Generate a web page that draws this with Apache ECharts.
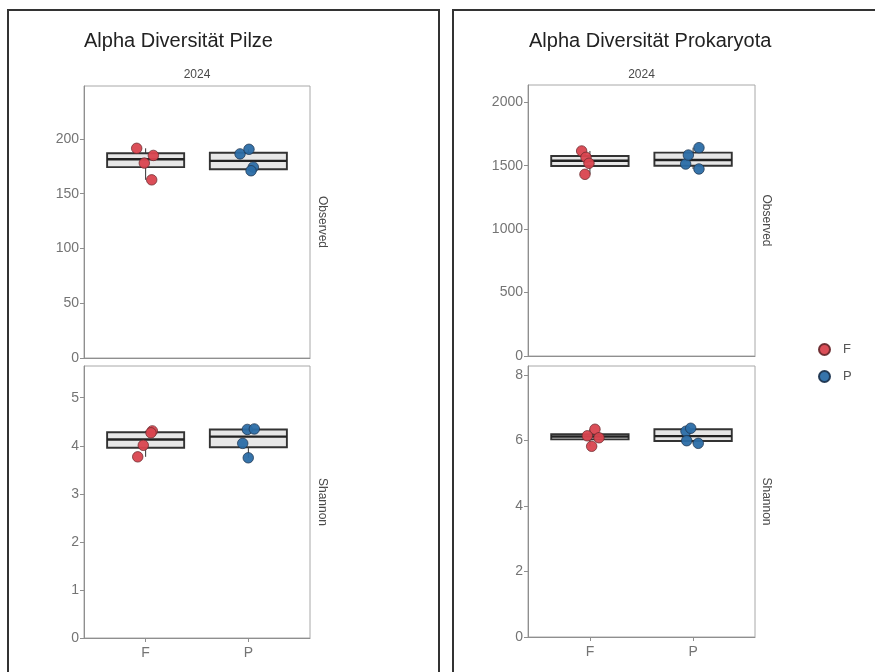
<!DOCTYPE html>
<html>
<head>
<meta charset="utf-8">
<script src="https://cdn.jsdelivr.net/npm/echarts@6/dist/echarts.min.js"></script>
<style>html,body{margin:0;padding:0;background:#fff}#c{width:875px;height:672px}</style>
</head>
<body>
<div id="c"></div>
<script>
// ---------- data ----------
const categories = ['F', 'P'];
const titles = ['Alpha Diversität Pilze', 'Alpha Diversität Prokaryota'];
const stripLabel = '2024';
const facetLabels = ['Observed', 'Shannon'];

// Pilze - Observed
const pilzeObsF = [191.5, 185, 178, 162.7];
const pilzeObsFx = [0.913, 1.075, 0.987, 1.059];
const pilzeObsP = [186.4, 190.6, 174.3, 171];
const pilzeObsPx = [1.919, 2.006, 2.048, 2.026];
const pilzeObsBoxF = [162.7, 174.3, 181.5, 187, 191.5];
const pilzeObsBoxP = [171, 172.4, 180, 187.5, 190.6];
// Pilze - Shannon
const pilzeShaF = [4.31, 4.27, 4.01, 3.77];
const pilzeShaFx = [1.065, 1.052, 0.977, 0.923];
const pilzeShaP = [4.34, 4.35, 4.05, 3.75];
const pilzeShaPx = [1.990, 2.058, 1.945, 1.999];
const pilzeShaBoxF = [3.77, 3.96, 4.13, 4.28, 4.31];
const pilzeShaBoxP = [3.75, 3.97, 4.19, 4.34, 4.35];
// Prokaryota - Observed
const prokObsF = [1616, 1566, 1519, 1432];
const prokObsFx = [0.920, 0.962, 0.991, 0.952];
const prokObsP = [1513, 1584, 1642, 1474];
const prokObsPx = [1.928, 1.954, 2.057, 2.057];
const prokObsBoxF = [1432, 1497, 1539, 1576, 1616];
const prokObsBoxP = [1474, 1500, 1545, 1603, 1642];
// Prokaryota - Shannon
const prokShaF = [6.34, 6.14, 6.08, 5.82];
const prokShaFx = [1.049, 0.975, 1.088, 1.017];
const prokShaP = [6.28, 6.37, 5.99, 5.91];
const prokShaPx = [1.931, 1.977, 1.938, 2.050];
const prokShaBoxF = [5.82, 6.03, 6.12, 6.19, 6.34];
const prokShaBoxP = [5.91, 5.98, 6.13, 6.34, 6.37];

// y ticks
const ticksPilzeObs = [0, 50, 100, 150, 200];
const ticksPilzeSha = [0, 1, 2, 3, 4, 5];
const ticksProkObs = [0, 500, 1000, 1500, 2000];
const ticksProkSha = [0, 2, 4, 6, 8];

// ---------- chart ----------
const FONT = 'Liberation Sans, Arial, sans-serif';
const RED = '#d9454f';
const BLUE = '#2b6da6';
const panels = [
  {grid: {left: 84, top: 86, width: 226, height: 272}, max: 248.4, ticks: ticksPilzeObs, showX: false,
   F: pilzeObsF, Fx: pilzeObsFx, P: pilzeObsP, Px: pilzeObsPx, bF: pilzeObsBoxF, bP: pilzeObsBoxP},
  {grid: {left: 84, top: 366, width: 226, height: 272}, max: 5.66, ticks: ticksPilzeSha, showX: true,
   F: pilzeShaF, Fx: pilzeShaFx, P: pilzeShaP, Px: pilzeShaPx, bF: pilzeShaBoxF, bP: pilzeShaBoxP},
  {grid: {left: 528, top: 85, width: 227, height: 271}, max: 2136, ticks: ticksProkObs, showX: false,
   F: prokObsF, Fx: prokObsFx, P: prokObsP, Px: prokObsPx, bF: prokObsBoxF, bP: prokObsBoxP},
  {grid: {left: 528, top: 366, width: 227, height: 271}, max: 8.27, ticks: ticksProkSha, showX: true,
   F: prokShaF, Fx: prokShaFx, P: prokShaP, Px: prokShaPx, bF: prokShaBoxF, bP: prokShaBoxP}
];

const grids = [], xAxes = [], yAxes = [], series = [];
const axisGrey = '#8f8f8f';
const labelGrey = '#747474';
panels.forEach((p, i) => {
  grids.push(Object.assign({show: true, borderColor: '#a8a8a8', borderWidth: 1, backgroundColor: 'transparent'}, p.grid));
  xAxes.push({
    type: 'value', gridIndex: i, min: 0.4, max: 2.6,
    axisLine: {show: true, onZero: false, lineStyle: {color: axisGrey}},
    axisTick: {show: p.showX, length: 4, customValues: [1, 2], lineStyle: {color: axisGrey}},
    axisLabel: {show: p.showX, customValues: [1, 2], margin: 8, color: labelGrey, fontSize: 14, fontFamily: FONT,
      formatter: v => categories[Math.round(v) - 1]},
    splitLine: {show: false}
  });
  yAxes.push({
    type: 'value', gridIndex: i, min: 0, max: p.max,
    axisLine: {show: true, onZero: false, lineStyle: {color: axisGrey}},
    axisTick: {show: true, length: 4, customValues: p.ticks, lineStyle: {color: axisGrey}},
    axisLabel: {customValues: p.ticks, margin: 5, color: labelGrey, fontSize: 14, fontFamily: FONT,
      formatter: v => String(v)},
    splitLine: {show: false}
  });
  series.push({
    type: 'custom', xAxisIndex: i, yAxisIndex: i, z: 2, silent: true,
    encode: {x: 0, y: [1, 2, 3, 4, 5]},
    data: [[1].concat(p.bF), [2].concat(p.bP)],
    renderItem: (params, api) => {
      const x = api.value(0), lo = api.value(1), q1 = api.value(2), med = api.value(3), q3 = api.value(4), hi = api.value(5);
      const hw = 0.375;
      const tl = api.coord([x - hw, q3]), br = api.coord([x + hw, q1]);
      const ml = api.coord([x - hw, med]), mr = api.coord([x + hw, med]);
      const ph = api.coord([x, hi]), pl = api.coord([x, lo]);
      const st = {stroke: '#333', lineWidth: 1};
      return {type: 'group', children: [
        {type: 'line', shape: {x1: ph[0], y1: ph[1], x2: ph[0], y2: tl[1]}, style: st},
        {type: 'line', shape: {x1: pl[0], y1: br[1], x2: pl[0], y2: pl[1]}, style: st},
        {type: 'rect', shape: {x: tl[0], y: tl[1], width: br[0] - tl[0], height: br[1] - tl[1]},
          style: {fill: 'rgba(215,215,215,0.6)', stroke: '#333', lineWidth: 1.9}},
        {type: 'line', shape: {x1: ml[0], y1: ml[1], x2: mr[0], y2: mr[1]}, style: {stroke: '#222', lineWidth: 2.4}}
      ]};
    }
  });
  series.push({
    type: 'scatter', name: 'F', xAxisIndex: i, yAxisIndex: i, z: 3, symbolSize: 10.5,
    itemStyle: {color: RED, opacity: 0.95, borderColor: '#6a2a2e', borderWidth: 0.8},
    data: p.F.map((v, k) => [p.Fx[k], v])
  });
  series.push({
    type: 'scatter', name: 'P', xAxisIndex: i, yAxisIndex: i, z: 3, symbolSize: 10.5,
    itemStyle: {color: BLUE, opacity: 0.95, borderColor: '#1e3550', borderWidth: 0.8},
    data: p.P.map((v, k) => [p.Px[k], v])
  });
});

const txt = (text, x, y, size, color, align) => ({
  type: 'text', x: x, y: y,
  style: {text: text, fill: color, fontSize: size, fontFamily: FONT, align: align || 'left', verticalAlign: 'middle'}
});

const graphics = [
  {type: 'rect', shape: {x: 8, y: 10, width: 431, height: 690}, style: {fill: 'none', stroke: '#333', lineWidth: 2}},
  {type: 'rect', shape: {x: 453, y: 10, width: 440, height: 690}, style: {fill: 'none', stroke: '#333', lineWidth: 2}},
  txt(titles[0], 84, 41, 20, '#222'),
  txt(titles[1], 529, 41, 20, '#222'),
  txt(stripLabel, 197, 75, 12, '#4a4a4a', 'center'),
  txt(stripLabel, 641.5, 75, 12, '#4a4a4a', 'center')
];
const facetPos = [[322, 222, 0], [322, 502, 1], [766.5, 220.5, 0], [766.5, 501.5, 1]];
facetPos.forEach(f => {
  graphics.push({type: 'text', x: f[0], y: f[1], rotation: -Math.PI / 2,
    style: {text: facetLabels[f[2]], fill: '#4a4a4a', fontSize: 12, fontFamily: FONT, align: 'center', verticalAlign: 'middle'}});
});

const chart = echarts.init(document.getElementById('c'), null, {renderer: 'canvas'});
chart.setOption({
  animation: false,
  backgroundColor: '#fff',
  grid: grids,
  xAxis: xAxes,
  yAxis: yAxes,
  legend: {
    data: categories, orient: 'vertical', left: 813, top: 338, itemWidth: 11, itemHeight: 11, itemGap: 14,
    icon: 'circle', selectedMode: false,
    textStyle: {color: '#555', fontSize: 13, fontFamily: FONT, padding: [0, 0, 0, 8]}
  },
  graphic: graphics,
  series: series
});
</script>
</body>
</html>
